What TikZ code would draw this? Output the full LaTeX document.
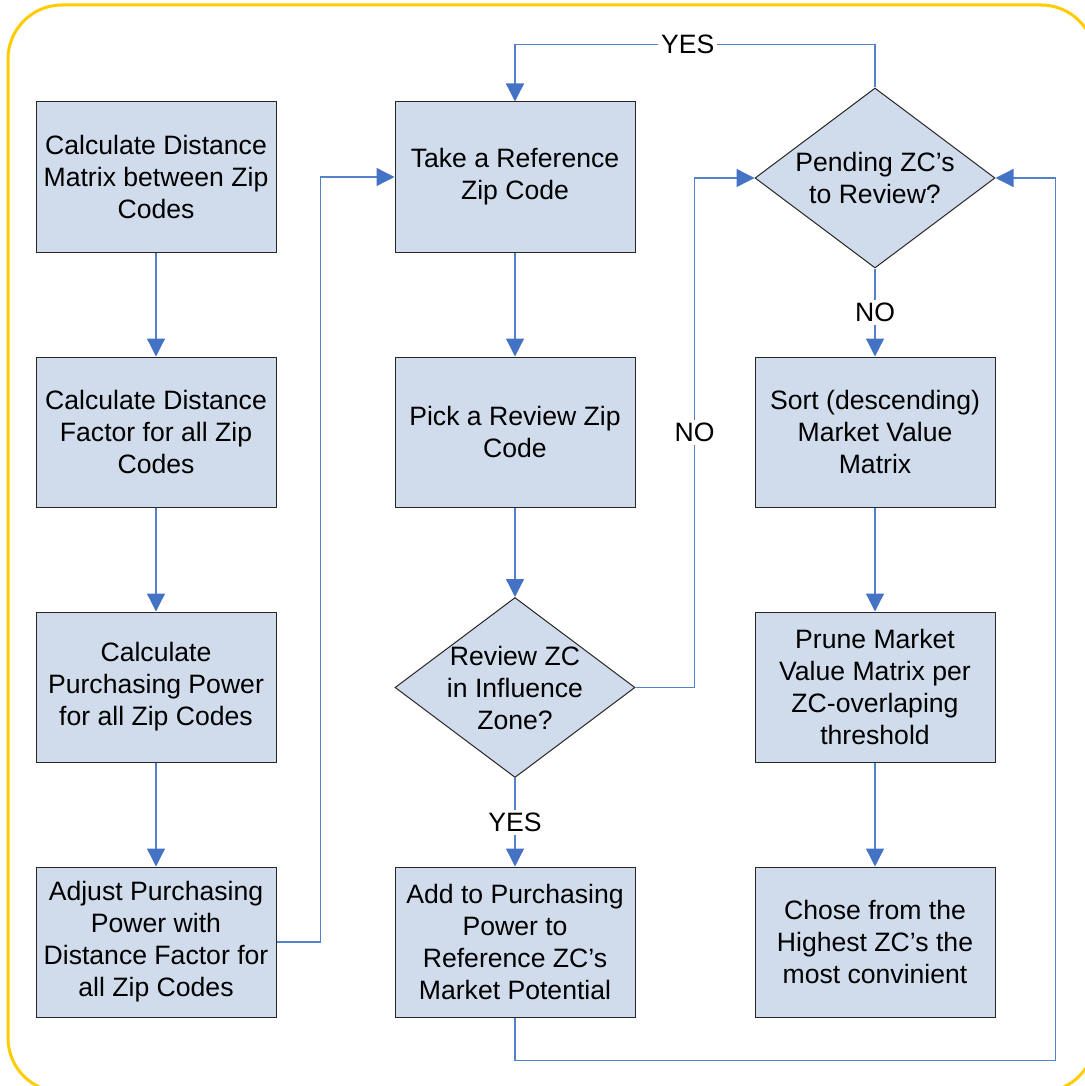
\documentclass[tikz,border=0pt]{standalone}
\usepackage{fontspec}
\setmainfont{Liberation Sans}
\usetikzlibrary{shapes.geometric,arrows.meta}
\definecolor{boxfill}{RGB}{208,220,236}
\definecolor{flowblue}{RGB}{84,130,200}
\definecolor{tipblue}{RGB}{68,114,196}
\definecolor{frameyellow}{RGB}{255,204,0}
\begin{document}
\begin{tikzpicture}[x=0.5pt,y=-0.5pt,line width=0.5pt,
  every node/.style={font=\fontsize{13.3}{16}\selectfont,align=center,inner sep=1pt},
  proc/.style={draw=black!85,fill=boxfill,minimum width=120pt,minimum height=75pt},
  decision/.style={shape=diamond,draw=black!85,fill=boxfill,minimum width=120pt,minimum height=90pt,inner sep=0pt},
  flow/.style={draw=flowblue,line width=0.65pt,-{Triangle[length=9pt,width=9pt,color=tipblue]}},
  lbl/.style={fill=white,inner sep=1.5pt}]
\useasboundingbox (0,0) rectangle (1084,1086);
\draw[frameyellow,line width=1.5pt,rounded corners=27pt] (8,5) rectangle (1095,1092);
% first column
\node[proc] (calcmat) at (156,177) {Calculate Distance\\Matrix between Zip\\Codes};
\node[proc] (calcfac) at (156,432) {Calculate Distance\\Factor for all Zip\\Codes};
\node[proc] (calcpow) at (156,687) {Calculate\\Purchasing Power\\for all Zip Codes};
\node[proc] (adjpow) at (156,942) {Adjust Purchasing\\Power with\\Distance Factor for\\all Zip Codes};
% second column
\node[proc] (takeref) at (515,177) {Take a Reference\\Zip Code};
\node[proc] (pickrev) at (515,432) {Pick a Review Zip\\Code};
\node[decision] (inzone) at (515,687.5) {};
\node (inzonetxt) at (inzone) {Review ZC\\in Influence\\Zone?};
\node[proc] (addpow) at (515,942) {Add to Purchasing\\Power to\\Reference ZC’s\\Market Potential};
% third column
\node[decision] (pending) at (875,178) {};
\node (pendingtxt) at (pending) {Pending ZC’s\\to Review?};
\node[proc] (sortmv) at (875,432) {Sort (descending)\\Market Value\\Matrix};
\node[proc] (prunemv) at (875,687) {Prune Market\\Value Matrix per\\ZC-overlaping\\threshold};
\node[proc] (chose) at (875,942) {Chose from the\\Highest ZC’s the\\most convinient};
% connectors
\draw[flow] (calcmat) -- (calcfac);
\draw[flow] (calcfac) -- (calcpow);
\draw[flow] (calcpow) -- (adjpow);
\draw[flow] (adjpow.east) -- ++(44,0) |- (takeref.west);
\draw[flow] (takeref) -- (pickrev);
\draw[flow] (pickrev) -- (inzone);
\draw[flow] (inzone.south) -- node[lbl] (yesin) {YES} (addpow.north);
\draw[flow] (inzone.east) -- ++(59,0) |- node[lbl,pos=0.25] (noin) {NO} (pending.west);
\draw[flow] (pending.north) -- ++(0,-43) -| node[lbl,pos=0.26] (yespend) {YES} (takeref.north);
\draw[flow] (pending.south) -- node[lbl] (nopend) {NO} (sortmv.north);
\draw[flow] (sortmv) -- (prunemv);
\draw[flow] (prunemv) -- (chose);
\draw[flow] (addpow.south) -- ++(0,43) -| ([xshift=30pt]pending.east) -- (pending.east);
\end{tikzpicture}
\end{document}
